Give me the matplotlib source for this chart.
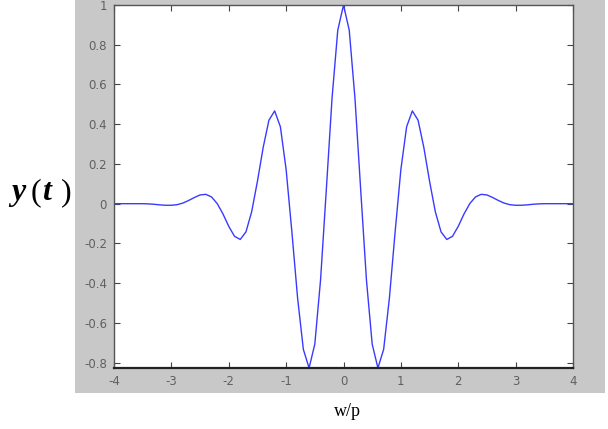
import matplotlib
matplotlib.use('Agg')
import matplotlib.pyplot as plt
from matplotlib.patches import Rectangle

t_vals = [round(-4 + 0.1 * i, 1) for i in range(81)]
y_half = [1.0, 0.873, 0.530, 0.068, -0.384, -0.707, -0.827, -0.733, -0.475, -0.141,
          0.172, 0.387, 0.467, 0.420, 0.283, 0.113, -0.040, -0.142, -0.180, -0.164,
          -0.114, -0.052, 0.000, 0.034, 0.047, 0.044, 0.031, 0.016, 0.003, -0.005,
          -0.008, -0.008, -0.006, -0.003, -0.001, 0.000, 0.0, 0.0, 0.0, 0.0, 0.0]
y_vals = y_half[:0:-1] + y_half

x_ticks = [-4, -3, -2, -1, 0, 1, 2, 3, 4]
y_ticks = [-0.8, -0.6, -0.4, -0.2, 0, 0.2, 0.4, 0.6, 0.8, 1]
y_tick_labels = ['-0.8', '-0.6', '-0.4', '-0.2', '0', '0.2', '0.4', '0.6', '0.8', '1']

plt.rcParams['axes.unicode_minus'] = False

fig = plt.figure(figsize=(6.08, 4.29), dpi=100)
fig.patch.set_facecolor('white')

# grey MATLAB figure panel
fig.patches.append(Rectangle((75 / 608, 1 - 393 / 429), 530 / 608, 393 / 429,
                             transform=fig.transFigure, facecolor='#c8c8c8',
                             edgecolor='none', zorder=0))

ax = fig.add_axes([114 / 608, 1 - 368 / 429, 459 / 608, 363 / 429])
ax.set_zorder(2)
ax.set_facecolor('white')
ax.plot(t_vals, y_vals, color='#3a3aff', linewidth=1.0)

ax.set_xlim(-4, 4)
ax.set_ylim(min(y_vals), max(y_vals))
ax.set_xticks(x_ticks)
ax.set_xticklabels([str(v) for v in x_ticks])
ax.set_yticks(y_ticks)
ax.set_yticklabels(y_tick_labels)
ax.tick_params(direction='in', length=4, width=0.8, colors='#444444',
               labelcolor='#606060', labelsize=8.5, top=True, right=True,
               pad=5)
for side in ax.spines.values():
    side.set_color('#555555')
    side.set_linewidth(1.0)
ax.spines['bottom'].set_color('#222222')
ax.spines['bottom'].set_linewidth(1.6)

# y(t) label: bold italic letters, plain parentheses
base = 1 - 200 / 429
serif = 'Liberation Serif'
fig.text(11 / 608, base, 'y', family=serif, fontsize=23, weight='bold', style='italic', va='baseline')
fig.text(31 / 608, base, '(', family=serif, fontsize=23, va='baseline')
fig.text(42 / 608, base, 't', family=serif, fontsize=23, weight='bold', style='italic', va='baseline')
fig.text(61 / 608, base, ')', family=serif, fontsize=23, va='baseline')

fig.text(347 / 608, 1 - 411 / 429, 'w/p', family=serif, fontsize=13,
         ha='center', va='center')

fig.savefig('out.png', dpi=100)
